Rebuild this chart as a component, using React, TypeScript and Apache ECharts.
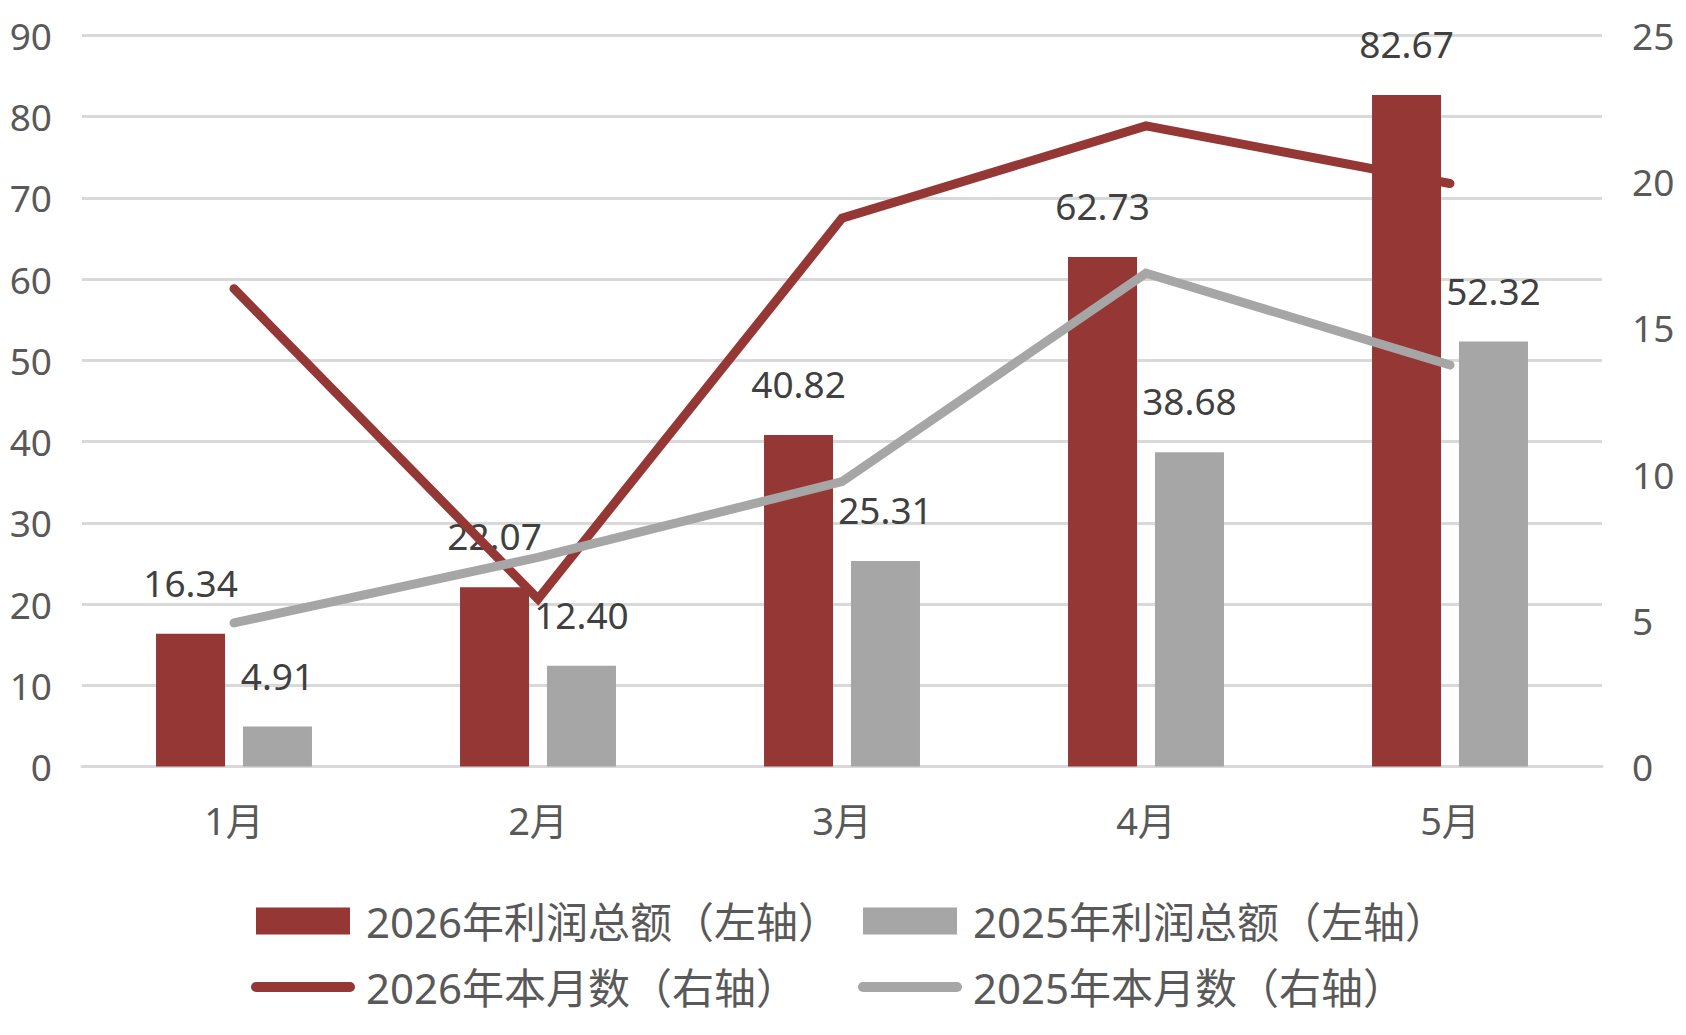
import React, { useEffect, useRef } from "react";
import * as echarts from "echarts";

const categories = ["1月", "2月", "3月", "4月", "5月"];
const profit2026 = [16.34, 22.07, 40.82, 62.73, 82.67];
const profit2025 = [4.91, 12.4, 25.31, 38.68, 52.32];
const monthly2026 = [16.34, 5.73, 18.75, 21.91, 19.94];
const monthly2025 = [4.91, 7.15, 9.74, 16.87, 13.73];
const leftAxis = { min: 0, max: 90, interval: 10 };
const rightAxis = { min: 0, max: 25, interval: 5 };
const names = [
  "2026年利润总额（左轴）",
  "2025年利润总额（左轴）",
  "2026年本月数（右轴）",
  "2025年本月数（右轴）",
];

const RED = "#953735";
const GRAY = "#A6A6A6";
const GRID = "#D9D9D9";
const AXIS_TEXT = "#595959";
const LABEL_TEXT = "#404040";
const FONT = '"Noto Sans", "Noto Sans CJK SC", sans-serif';

export default function App() {
  const ref = useRef<HTMLDivElement>(null);
  useEffect(() => {
    if (!ref.current) return;
    const chart = echarts.init(ref.current, null, { renderer: "svg" });
    const barLabel = {
      show: true,
      position: "top",
      distance: 33,
      fontSize: 37,
      fontFamily: FONT,
      color: LABEL_TEXT,
      formatter: (p: any) => Number(p.value).toFixed(2),
    };
    const legendCommon = {
      orient: "vertical",
      top: 900,
      padding: 0,
      itemWidth: 94,
      itemHeight: 27,
      itemGap: 24,
      textStyle: {
        fontSize: 42,
        lineHeight: 42,
        fontFamily: FONT,
        color: AXIS_TEXT,
        padding: [0, 0, 0, 11],
      },
      lineStyle: { width: 10, cap: "round" },
    };
    const barEntry = (n: string) => ({ name: n, icon: "rect" });
    const lineEntry = (n: string) => ({ name: n, itemStyle: { opacity: 0 } });
    chart.setOption({
      animation: false,
      textStyle: { fontFamily: FONT },
      grid: { left: 82, right: 84, top: 35.5, bottom: 268.5, containLabel: false },
      legend: [
        { ...legendCommon, left: 251, data: [barEntry(names[0]), lineEntry(names[2])] },
        { ...legendCommon, left: 858, data: [barEntry(names[1]), lineEntry(names[3])] },
      ],
      xAxis: {
        type: "category",
        data: categories,
        axisLine: { show: true, lineStyle: { color: GRID, width: 3 } },
        axisTick: { show: false },
        axisLabel: { fontSize: 38, color: AXIS_TEXT, margin: 34, fontFamily: FONT },
      },
      yAxis: [
        {
          type: "value",
          ...leftAxis,
          position: "left",
          axisLine: { show: false },
          axisTick: { show: false },
          axisLabel: { fontSize: 37, color: AXIS_TEXT, margin: 30, fontFamily: FONT },
          splitLine: { show: true, lineStyle: { color: GRID, width: 3 } },
        },
        {
          type: "value",
          ...rightAxis,
          position: "right",
          axisLine: { show: false },
          axisTick: { show: false },
          axisLabel: { fontSize: 37, color: AXIS_TEXT, margin: 30, fontFamily: FONT },
          splitLine: { show: false },
        },
      ],
      series: [
        {
          name: names[0],
          type: "bar",
          data: profit2026,
          barWidth: 69,
          barGap: "26%",
          itemStyle: { color: RED },
          label: barLabel,
          yAxisIndex: 0,
        },
        {
          name: names[1],
          type: "bar",
          data: profit2025,
          barWidth: 69,
          barGap: "26%",
          itemStyle: { color: GRAY },
          label: barLabel,
          yAxisIndex: 0,
        },
        {
          name: names[2],
          type: "line",
          data: monthly2026,
          yAxisIndex: 1,
          symbol: "none",
          lineStyle: { color: RED, width: 9, cap: "round", join: "miter" },
          itemStyle: { color: RED },
          z: 3,
        },
        {
          name: names[3],
          type: "line",
          data: monthly2025,
          yAxisIndex: 1,
          symbol: "none",
          lineStyle: { color: GRAY, width: 9, cap: "round", join: "miter" },
          itemStyle: { color: GRAY },
          z: 3,
        },
      ],
    });
    return () => chart.dispose();
  }, []);
  return (
    <div
      ref={ref}
      style={{ position: "fixed", left: 0, top: 0, width: 1686, height: 1035, background: "#fff" }}
    />
  );
}
